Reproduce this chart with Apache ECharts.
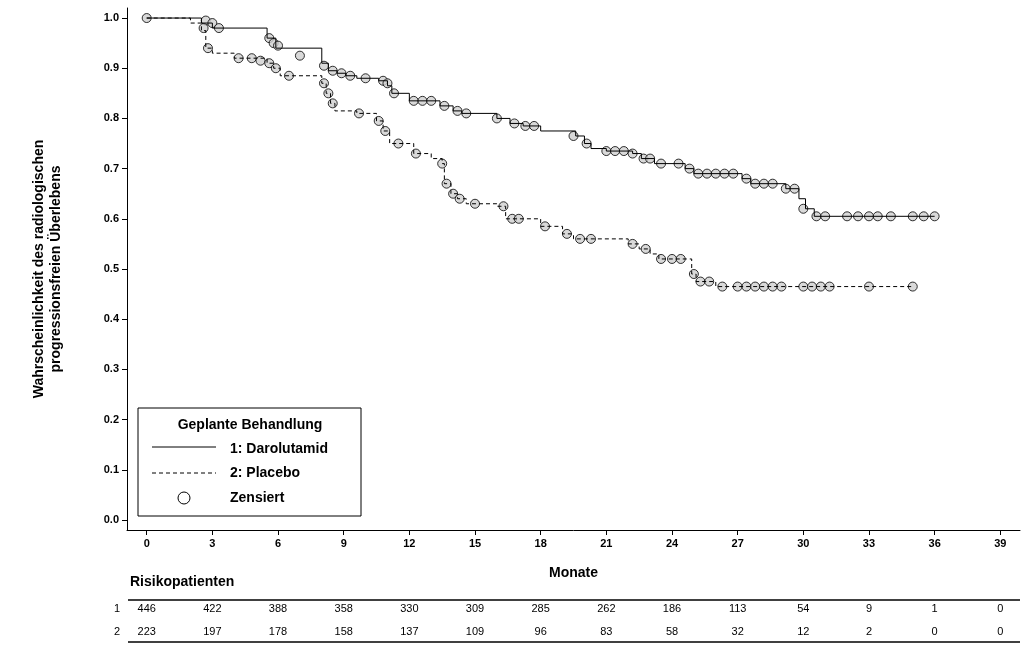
<!DOCTYPE html>
<html>
<head>
<meta charset="UTF-8">
<title>rPFS</title>
<style>
    html, body { margin: 0; padding: 0; background: #fff; }
    #container { width: 1029px; height: 655px; }
</style>
</head>
<body>
<div id="container"></div>
<script src="https://cdn.jsdelivr.net/npm/echarts@6/dist/echarts.min.js"></script>
<script>
    // Kaplan-Meier steps [Monate, Wahrscheinlichkeit]
    var daroSteps = [[0,1.0],[2.5,0.99],[3,0.98],[5.5,0.96],[5.9,0.94],[8,0.91],[8.3,0.895],[8.7,0.89],[9.1,0.885],[9.6,0.88],[10.6,0.875],[11,0.865],[11.2,0.85],[12,0.835],[13.4,0.825],[14,0.815],[14.4,0.81],[16,0.8],[16.6,0.79],[17.2,0.785],[18,0.775],[19.6,0.765],[20,0.75],[20.3,0.74],[21,0.735],[22.2,0.73],[22.6,0.72],[23.2,0.71],[24.6,0.7],[25,0.69],[27.2,0.68],[27.6,0.67],[29.2,0.66],[29.8,0.64],[30.1,0.62],[30.5,0.605],[36,0.605]];
    var placSteps = [[0,1.0],[2,0.99],[2.5,0.975],[2.7,0.94],[3,0.93],[4,0.92],[5.5,0.91],[5.8,0.9],[6.1,0.885],[8,0.87],[8.2,0.85],[8.4,0.83],[8.6,0.815],[9.6,0.81],[10.5,0.795],[10.8,0.775],[11.1,0.75],[12.2,0.73],[13,0.72],[13.5,0.71],[13.6,0.67],[13.9,0.65],[14.2,0.64],[14.6,0.63],[16,0.625],[16.4,0.6],[18,0.585],[19,0.57],[19.5,0.56],[22,0.55],[22.5,0.54],[23,0.53],[23.4,0.52],[24.9,0.49],[25.1,0.475],[26,0.465],[35,0.465]];
    // Zensiert
    var daroCens = [[0,1.0],[2.7,0.995],[3,0.99],[3.3,0.98],[5.6,0.96],[5.8,0.95],[6,0.945],[7,0.925],[8.1,0.905],[8.5,0.895],[8.9,0.89],[9.3,0.885],[10,0.88],[10.8,0.875],[11,0.87],[11.3,0.85],[12.2,0.835],[12.6,0.835],[13,0.835],[13.6,0.825],[14.2,0.815],[14.6,0.81],[16,0.8],[16.8,0.79],[17.3,0.785],[17.7,0.785],[19.5,0.765],[20.1,0.75],[21,0.735],[21.4,0.735],[21.8,0.735],[22.2,0.73],[22.7,0.72],[23,0.72],[23.5,0.71],[24.3,0.71],[24.8,0.7],[25.2,0.69],[25.6,0.69],[26,0.69],[26.4,0.69],[26.8,0.69],[27.4,0.68],[27.8,0.67],[28.2,0.67],[28.6,0.67],[29.2,0.66],[29.6,0.66],[30,0.62],[30.6,0.605],[31,0.605],[32,0.605],[32.5,0.605],[33,0.605],[33.4,0.605],[34,0.605],[35,0.605],[35.5,0.605],[36,0.605]];
    var placCens = [[2.6,0.98],[2.8,0.94],[4.2,0.92],[4.8,0.92],[5.2,0.915],[5.6,0.91],[5.9,0.9],[6.5,0.885],[8.1,0.87],[8.3,0.85],[8.5,0.83],[9.7,0.81],[10.6,0.795],[10.9,0.775],[11.5,0.75],[12.3,0.73],[13.5,0.71],[13.7,0.67],[14,0.65],[14.3,0.64],[15,0.63],[16.3,0.625],[16.7,0.6],[17,0.6],[18.2,0.585],[19.2,0.57],[19.8,0.56],[20.3,0.56],[22.2,0.55],[22.8,0.54],[23.5,0.52],[24,0.52],[24.4,0.52],[25,0.49],[25.3,0.475],[25.7,0.475],[26.3,0.465],[27,0.465],[27.4,0.465],[27.8,0.465],[28.2,0.465],[28.6,0.465],[29,0.465],[30,0.465],[30.4,0.465],[30.8,0.465],[31.2,0.465],[33,0.465],[35,0.465]];

    var riskMonths = [0, 3, 6, 9, 12, 15, 18, 21, 24, 27, 30, 33, 36, 39];
    var riskDaro = [446, 422, 388, 358, 330, 309, 285, 262, 186, 113, 54, 9, 1, 0];
    var riskPlac = [223, 197, 178, 158, 137, 109, 96, 83, 58, 32, 12, 2, 0, 0];
    var yTicks = [0, 0.1, 0.2, 0.3, 0.4, 0.5, 0.6, 0.7, 0.8, 0.9, 1.0];

    var font = '"Liberation Sans", Arial, sans-serif';
    var chart = echarts.init(document.getElementById('container'));

    chart.setOption({
        animation: false,
        grid: { left: 127, right: 9, top: 8, bottom: 125 },
        xAxis: {
            type: 'value', min: -0.9, max: 39.9,
            axisLine: { onZero: false, lineStyle: { color: '#000' } },
            axisTick: { customValues: riskMonths, length: 5, lineStyle: { color: '#000' } },
            axisLabel: { customValues: riskMonths, color: '#000', fontFamily: font, fontSize: 11, fontWeight: 'bold' },
            splitLine: { show: false },
            name: 'Monate', nameLocation: 'middle', nameGap: 36,
            nameTextStyle: { color: '#000', fontFamily: font, fontSize: 14, fontWeight: 'bold' }
        },
        yAxis: {
            type: 'value', min: -0.02, max: 1.02,
            axisLine: { show: true, onZero: false, lineStyle: { color: '#000' } },
            axisTick: { show: true, customValues: yTicks, length: 5, lineStyle: { color: '#000' } },
            axisLabel: { customValues: yTicks, formatter: function (v) { return v.toFixed(1); },
                color: '#000', fontFamily: font, fontSize: 11, fontWeight: 'bold' },
            splitLine: { show: false },
            name: 'Wahrscheinlichkeit des radiologischen\nprogressionsfreien Überlebens',
            nameLocation: 'middle', nameGap: 62, nameRotate: 90,
            nameTextStyle: { color: '#000', fontFamily: font, fontSize: 14, fontWeight: 'bold', lineHeight: 17 }
        },
        series: [
            { type: 'line', step: 'end', data: daroSteps, symbol: 'none', lineStyle: { color: '#000', width: 1 } },
            { type: 'line', step: 'end', data: placSteps, symbol: 'none', lineStyle: { color: '#000', width: 1, type: [4, 3] } },
            { type: 'scatter', data: daroCens, symbol: 'circle', symbolSize: 9, itemStyle: { color: '#d0d0d0', borderColor: '#000', borderWidth: 1 } },
            { type: 'scatter', data: placCens, symbol: 'circle', symbolSize: 9, itemStyle: { color: '#d0d0d0', borderColor: '#000', borderWidth: 1 } }
        ]
    });

    // Legende und Risikotabelle
    var g = [
        { type: 'rect', shape: { x: 138, y: 408, width: 223, height: 108 }, style: { fill: '#fff', stroke: '#000', lineWidth: 1 } },
        { type: 'text', x: 250, y: 418, style: { text: 'Geplante Behandlung', font: 'bold 14px ' + font, fill: '#000', textAlign: 'center' } },
        { type: 'line', shape: { x1: 152, y1: 447, x2: 216, y2: 447 }, style: { stroke: '#000', lineWidth: 1 } },
        { type: 'text', x: 230, y: 442, style: { text: '1: Darolutamid', font: 'bold 14px ' + font, fill: '#000' } },
        { type: 'line', shape: { x1: 152, y1: 473, x2: 216, y2: 473 }, style: { stroke: '#000', lineWidth: 1, lineDash: [4, 3] } },
        { type: 'text', x: 230, y: 466, style: { text: '2: Placebo', font: 'bold 14px ' + font, fill: '#000' } },
        { type: 'circle', shape: { cx: 184, cy: 498, r: 6 }, style: { fill: '#fff', stroke: '#000', lineWidth: 1 } },
        { type: 'text', x: 230, y: 491, style: { text: 'Zensiert', font: 'bold 14px ' + font, fill: '#000' } },
        { type: 'text', x: 130, y: 575, style: { text: 'Risikopatienten', font: 'bold 14px ' + font, fill: '#000' } },
        { type: 'line', shape: { x1: 128, y1: 600, x2: 1020, y2: 600 }, style: { stroke: '#000', lineWidth: 1.5 } },
        { type: 'line', shape: { x1: 128, y1: 642, x2: 1020, y2: 642 }, style: { stroke: '#000', lineWidth: 1.5 } },
        { type: 'text', x: 114, y: 603, style: { text: '1', font: '11px ' + font, fill: '#000' } },
        { type: 'text', x: 114, y: 626, style: { text: '2', font: '11px ' + font, fill: '#000' } }
    ];
    riskMonths.forEach(function (m, i) {
        var px = chart.convertToPixel({ gridIndex: 0 }, [m, 0])[0];
        g.push({ type: 'text', x: px, y: 603, style: { text: String(riskDaro[i]), font: '11px ' + font, fill: '#000', textAlign: 'center' } });
        g.push({ type: 'text', x: px, y: 626, style: { text: String(riskPlac[i]), font: '11px ' + font, fill: '#000', textAlign: 'center' } });
    });
    chart.setOption({ graphic: g });
</script>
</body>
</html>
